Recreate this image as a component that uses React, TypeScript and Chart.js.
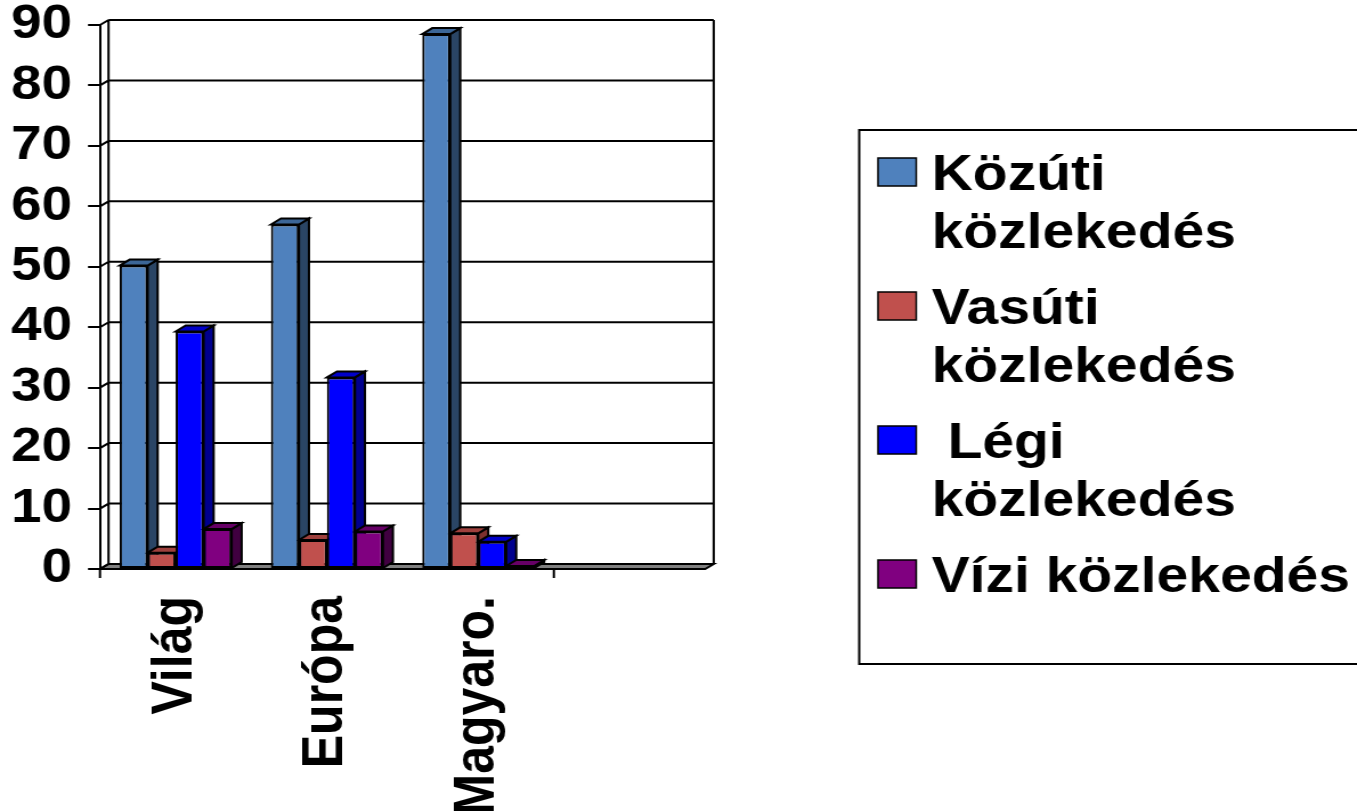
import React, { useEffect, useRef } from 'react';
import { Chart, registerables } from 'chart.js';

Chart.register(...registerables);

// ---- data ----
const categories = ['Világ', 'Európa', 'Magyaro.', ''];
const seriesLabels = ['Közúti közlekedés', 'Vasúti közlekedés', ' Légi közlekedés', 'Vízi közlekedés'];
const kozuti = [50.2, 57, 88.5, null];
const vasuti = [2.7, 4.8, 5.9, null];
const legi = [39.3, 31.7, 4.5, null];
const vizi = [6.6, 6.2, 0.5, null];
const yTickStep = 10;
const yMax = 90;

// ---- styles ----
const frontColors = ['#4F81BD', '#C0504D', '#0000FF', '#800080'];
const topColors = ['#3C6697', '#9E403D', '#0000C8', '#660066'];
const sideColors = ['#2A4565', '#7D302E', '#00008E', '#400040'];

const CANVAS_W = 1190;
const CANVAS_H = 811;
const DISPLAY_W = 1357;
const FONT = "'Liberation Sans', Arial, sans-serif";
const WDX = 7.5; // wall depth
const WDY = 5;
const BDX = 8.8; // bar depth
const BDY = 6;
const AREA_TOP = 25;
const AREA_BOTTOM = 569;

function poly(ctx: CanvasRenderingContext2D, pts: number[][], fill: string) {
  ctx.beginPath();
  ctx.moveTo(pts[0][0], pts[0][1]);
  for (let i = 1; i < pts.length; i++) ctx.lineTo(pts[i][0], pts[i][1]);
  ctx.closePath();
  ctx.fillStyle = fill;
  ctx.fill();
  ctx.stroke();
}

const threeD = {
  id: 'threeD',
  beforeDatasetsDraw(chart: any) {
    const { ctx, chartArea: a, scales } = chart;
    const ys = scales.y;
    ctx.save();
    ctx.lineWidth = 2;
    ctx.strokeStyle = '#000';
    ctx.lineJoin = 'miter';
    // floor
    poly(ctx, [[a.left, a.bottom], [a.right, a.bottom], [a.right + WDX, a.bottom - WDY], [a.left + WDX, a.bottom - WDY]], '#808080');
    // back wall + left wall lines
    ctx.beginPath();
    ys.ticks.forEach((t: any) => {
      const py = ys.getPixelForValue(t.value);
      if (t.value > 0) {
        ctx.moveTo(a.left + WDX, py - WDY);
        ctx.lineTo(a.right + WDX, py - WDY);
      }
      ctx.moveTo(a.left, py);
      ctx.lineTo(a.left + WDX, py - WDY);
    });
    ctx.moveTo(a.left + WDX, a.top - WDY);
    ctx.lineTo(a.left + WDX, a.bottom - WDY);
    ctx.moveTo(a.right + WDX, a.top - WDY);
    ctx.lineTo(a.right + WDX, a.bottom - WDY);
    ctx.stroke();
    // bar top and side faces
    const n = chart.data.labels.length;
    const dsets = chart.data.datasets;
    for (let c = 0; c < n; c++) {
      for (let d = 0; d < dsets.length; d++) {
        if (dsets[d].data[c] == null) continue;
        const el = chart.getDatasetMeta(d).data[c];
        if (!el) continue;
        const { x, y, base, width } = el.getProps(['x', 'y', 'base', 'width'], true);
        const L = x - width / 2;
        const R = x + width / 2;
        poly(ctx, [[R, y], [R + BDX, y - BDY], [R + BDX, base - BDY], [R, base]], sideColors[d]);
        poly(ctx, [[L, y], [L + BDX, y - BDY], [R + BDX, y - BDY], [R, y]], topColors[d]);
      }
    }
    ctx.restore();
  },
  afterDraw(chart: any) {
    const { ctx, chartArea: a, scales } = chart;
    const xs = scales.x;
    ctx.save();
    ctx.lineWidth = 2;
    ctx.strokeStyle = '#000';
    // y axis extension below floor and x tick mark (interval 3)
    ctx.beginPath();
    ctx.moveTo(a.left, a.bottom);
    ctx.lineTo(a.left, a.bottom + 9);
    const bx = (xs.getPixelForValue(2) + xs.getPixelForValue(3)) / 2;
    ctx.moveTo(bx, a.bottom);
    ctx.lineTo(bx, a.bottom + 9);
    ctx.stroke();

    // legend
    const lx = 753.5, ly = 130, lb = 664;
    ctx.strokeRect(lx, ly, CANVAS_W - lx + 20, lb - ly);
    ctx.font = `bold 50px ${FONT}`;
    ctx.textAlign = 'left';
    ctx.textBaseline = 'alphabetic';
    ctx.fillStyle = '#000';
    const maxW = 380;
    chart.data.datasets.forEach((ds: any, i: number) => {
      const words = String(ds.label).split(' ');
      const lines: string[] = [];
      let cur = words[0];
      for (let k = 1; k < words.length; k++) {
        const test = cur + ' ' + words[k];
        if (ctx.measureText(test).width <= maxW) cur = test;
        else { lines.push(cur); cur = words[k]; }
      }
      lines.push(cur);
      const base0 = 190 + i * 134;
      ctx.lineWidth = 1.5;
      ctx.fillStyle = ds.backgroundColor;
      ctx.fillRect(770, base0 - 32, 33.5, 28);
      ctx.strokeRect(770, base0 - 32, 33.5, 28);
      ctx.fillStyle = '#000';
      lines.forEach((ln, j) => ctx.fillText(ln, 817, base0 + j * 58));
    });
    ctx.restore();
  },
};

export default function App() {
  const ref = useRef<HTMLCanvasElement | null>(null);
  useEffect(() => {
    if (!ref.current) return;
    const series = [kozuti, vasuti, legi, vizi];
    const chart = new Chart(ref.current, {
      type: 'bar',
      data: {
        labels: categories,
        datasets: series.map((s, i) => ({
          label: seriesLabels[i],
          data: s,
          backgroundColor: frontColors[i],
          borderColor: '#000',
          borderWidth: 2,
          borderSkipped: false,
          categoryPercentage: 0.74,
          barPercentage: 1.0,
        })),
      },
      options: {
        responsive: false,
        devicePixelRatio: 1,
        animation: false,
        events: [],
        layout: { padding: { left: 0, right: CANVAS_W - 618.4, top: AREA_TOP, bottom: 0 } },
        plugins: { legend: { display: false }, tooltip: { enabled: false }, title: { display: false } },
        scales: {
          x: {
            type: 'category',
            grid: { display: false },
            border: { display: false },
            ticks: {
              autoSkip: false,
              minRotation: 90,
              maxRotation: 90,
              padding: 19,
              color: '#000',
              font: { family: FONT, weight: 'bold', size: 50 },
            },
            afterFit: (s: any) => {
              s.height = CANVAS_H - AREA_BOTTOM;
              s.paddingTop = 0; s.paddingBottom = 0; s.paddingLeft = 0; s.paddingRight = 0;
            },
          },
          y: {
            min: 0,
            max: yMax,
            ticks: {
              stepSize: yTickStep,
              autoSkip: false,
              padding: 14,
              color: '#000',
              font: { family: FONT, weight: 'bold', size: 48 },
            },
            grid: { display: true, drawOnChartArea: false, drawTicks: true, tickLength: 10.5, color: '#000', lineWidth: 2 },
            border: { display: true, color: '#000', width: 2 },
            afterFit: (s: any) => {
              s.width = 87.7;
              s.paddingTop = 0; s.paddingBottom = 0;
            },
          },
        },
      } as any,
      plugins: [threeD],
    });
    return () => chart.destroy();
  }, []);
  return (
    <canvas
      ref={ref}
      width={CANVAS_W}
      height={CANVAS_H}
      style={{ position: 'fixed', left: 0, top: 0, width: `${DISPLAY_W}px`, height: `${CANVAS_H}px`, display: 'block', background: '#fff' }}
    />
  );
}
